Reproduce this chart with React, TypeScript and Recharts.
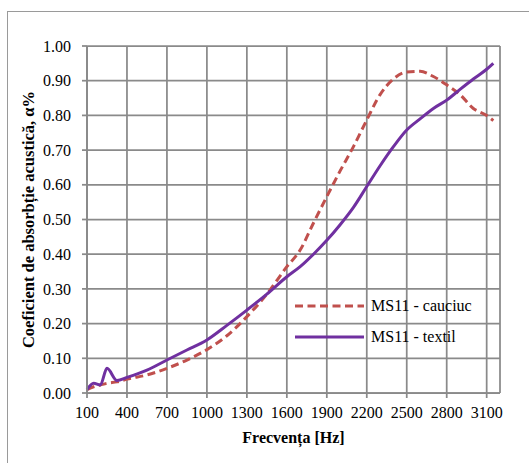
import React from 'react';
import { LineChart, Line, XAxis, YAxis, CartesianGrid, Legend, Label } from 'recharts';

const frequencies = [100, 150, 200, 250, 325, 400, 550, 700, 850, 1000, 1150, 1300, 1450, 1600, 1700, 1800, 1900, 2000, 2100, 2200, 2300, 2400, 2500, 2600, 2700, 2800, 2900, 3000, 3100, 3150];
const cauciuc = [0.01, 0.018, 0.023, 0.028, 0.032, 0.04, 0.052, 0.071, 0.095, 0.125, 0.165, 0.22, 0.285, 0.364, 0.412, 0.49, 0.566, 0.64, 0.71, 0.787, 0.86, 0.905, 0.925, 0.927, 0.912, 0.888, 0.86, 0.82, 0.8, 0.785];
const textil = [0.01, 0.028, 0.023, 0.071, 0.036, 0.045, 0.066, 0.095, 0.124, 0.153, 0.195, 0.239, 0.285, 0.335, 0.364, 0.4, 0.44, 0.485, 0.535, 0.595, 0.655, 0.71, 0.758, 0.79, 0.82, 0.844, 0.875, 0.905, 0.933, 0.95];

const xTicks = [100, 400, 700, 1000, 1300, 1600, 1900, 2200, 2500, 2800, 3100];
const yTicks = [0, 0.1, 0.2, 0.3, 0.4, 0.5, 0.6, 0.7, 0.8, 0.9, 1.0];
const seriesNames = ['MS11 - cauciuc', 'MS11 - textil'];

const data = frequencies.map((f, i) => ({ f, cauciuc: cauciuc[i], textil: textil[i] }));

const FONT = '"Times New Roman", "Liberation Serif", "DejaVu Serif", serif';
const GRID = '#8a8a8a';

const renderLegend = (props: any) => {
  const { payload } = props;
  return (
    <div style={{ fontFamily: FONT, fontSize: 16, color: '#000' }}>
      {payload.map((entry: any, i: number) => (
        <div key={i} style={{ display: 'flex', alignItems: 'center', height: 31 }}>
          <svg width={69} height={8} style={{ display: 'block' }}>
            <line
              x1={0}
              y1={4}
              x2={69}
              y2={4}
              stroke={entry.color}
              strokeWidth={3}
              strokeDasharray={entry.payload && entry.payload.strokeDasharray}
            />
          </svg>
          <span style={{ marginLeft: 7, whiteSpace: 'nowrap' }}>{entry.value}</span>
        </div>
      ))}
    </div>
  );
};

export default function App() {
  return (
    <div style={{ position: 'fixed', left: 0, top: 0, width: 529, height: 463, background: '#fff', overflow: 'hidden', fontFamily: FONT }}>
      <div
        style={{
          position: 'absolute',
          left: 7,
          top: 11,
          width: 560,
          height: 480,
          border: '1.5px solid #9a9a9a',
        }}
      />
      <LineChart
        width={529}
        height={463}
        data={data}
        margin={{ top: 46, right: 29, left: 0, bottom: 40 }}
        style={{ fontFamily: FONT, position: 'absolute', left: 0, top: 0 }}
      >
        <CartesianGrid stroke={GRID} strokeWidth={1.75} />
        <XAxis
          dataKey="f"
          type="number"
          domain={[100, 3200]}
          ticks={xTicks}
          interval={0}
          height={30}
          stroke={GRID}
          strokeWidth={1.75}
          tickSize={5}
          tickMargin={9}
          tick={{ fill: '#000', fontSize: 16, fontFamily: FONT }}
        >
          <Label
            value="Frecvența [Hz]"
            position="bottom"
            offset={9}
            style={{ fill: '#000', fontSize: 16, fontWeight: 'bold', fontFamily: FONT }}
          />
        </XAxis>
        <YAxis
          type="number"
          domain={[0, 1]}
          ticks={yTicks}
          interval={0}
          width={87}
          stroke={GRID}
          strokeWidth={1.75}
          tickSize={5}
          tickMargin={11}
          tickFormatter={(v: number) => v.toFixed(2)}
          tick={{ fill: '#000', fontSize: 16, fontFamily: FONT }}
        >
          <Label
            value="Coeficient de absorbție acustică, α%"
            angle={-90}
            position="insideLeft"
            offset={28}
            style={{ textAnchor: 'middle', fill: '#000', fontSize: 16.5, fontWeight: 'bold', fontFamily: FONT }}
          />
        </YAxis>
        <Legend
          layout="vertical"
          align="center"
          verticalAlign="middle"
          content={renderLegend}
          wrapperStyle={{ left: 295, top: 290, width: 220 }}
        />
        <Line
          type="monotone"
          dataKey="cauciuc"
          name={seriesNames[0]}
          stroke="#C0504D"
          strokeWidth={3}
          strokeDasharray="8 4.5"
          dot={false}
          isAnimationActive={false}
        />
        <Line
          type="monotone"
          dataKey="textil"
          name={seriesNames[1]}
          stroke="#7030A0"
          strokeWidth={3}
          dot={false}
          isAnimationActive={false}
        />
      </LineChart>
    </div>
  );
}
